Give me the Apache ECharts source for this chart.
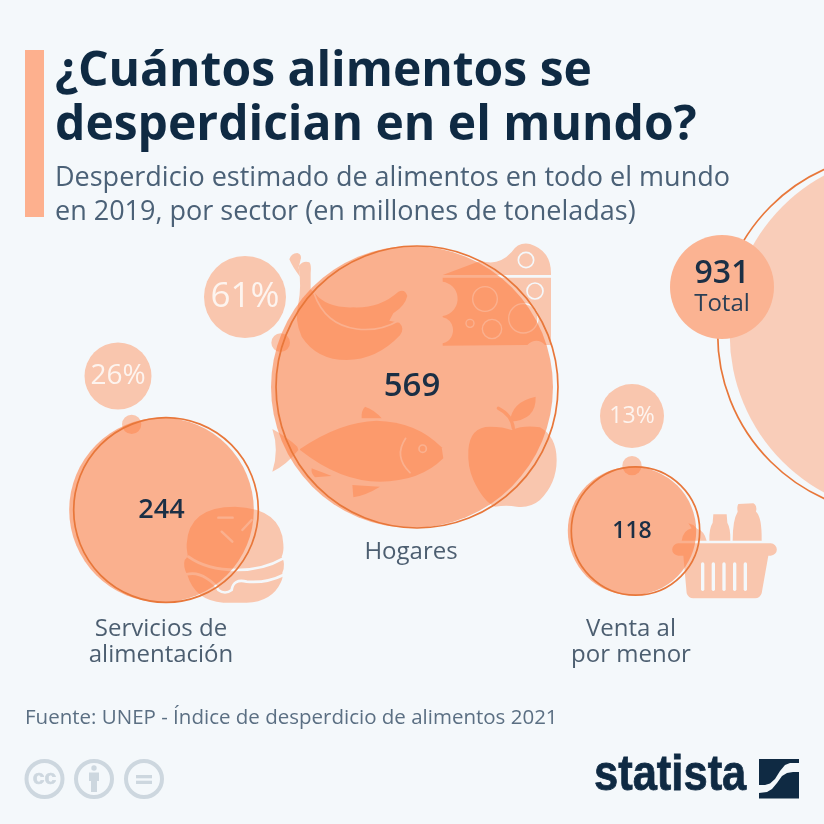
<!DOCTYPE html>
<html><head><meta charset="utf-8">
<style>html,body{margin:0;padding:0;background:#f4f8fb}#c{width:824px;height:824px}</style>
<script src="https://cdn.jsdelivr.net/npm/echarts@6/dist/echarts.min.js"></script>
</head><body><div id="c"></div>
<script>
// ---- data ----
const categories = ['Servicios de\nalimentación', 'Hogares', 'Venta al\npor menor'];
const values = [244, 569, 118];
const shares = [26, 61, 13];
const totalValue = 931;
const totalLabel = 'Total';
const titleText = '¿Cuántos alimentos se\ndesperdician en el mundo?';
const subtitleText = 'Desperdicio estimado de alimentos en todo el mundo\nen 2019, por sector (en millones de toneladas)';
const sourceText = 'Fuente: UNEP - Índice de desperdicio de alimentos 2021';

// ---- layout (page positions of the bubbles, not data) ----
const BG = '#f4f8fb', NAVY = '#0f2a43', ICON = '#f9c6ae', PEACH = '#fdb08e';
const radiusPerRootUnit = 5.91;
const bubbleSize = v => 2 * radiusPerRootUnit * Math.sqrt(v);
const fillCentres = [[161.5, 510], [412, 387], [632, 531]];
const ringCentres = [[166, 510], [417, 387], [635.5, 531]];
const totalFillCentre = [910, 334], totalRingCentre = [898, 334];
const badgeCentre = [722, 287], badgeSize = 104;
const shareCentres = [[118, 376], [245, 297], [632, 416]];
const shareSizes = [67, 82, 64], shareFonts = [28, 35, 23];
const valueFonts = [27, 33, 23];
const labelCentres = [[161, 642], [411, 552], [631, 642]];

function frame(w, h) { return `M0 0L0 0M${w} ${h}L${w} ${h}`; }
function pathEl(d, box, w, h, style) {
  return { type: 'path', shape: { pathData: frame(w, h) + d, x: box[0], y: box[1], width: w / 3, height: h / 3, layout: 'cover' }, style };
}
function fillP(d, box, w, h) { return pathEl(d, box, w, h, { fill: ICON }); }
function lineP(d, box, w, h, lw, col) { return pathEl(d, box, w, h, { fill: 'none', stroke: col || BG, lineWidth: (lw || 5) / 3, lineCap: 'round', lineJoin: 'round' }); }
function ring(cx, cy, r) { return `M${cx - r} ${cy}A${r} ${r} 0 1 1 ${cx + r} ${cy}A${r} ${r} 0 1 1 ${cx - r} ${cy}Z`; }

function iconElements() {
  const a = [190, 230], aw = 1140, ah = 900;
  const b = [50, 340], bw = 750, bh = 840;
  const c = [560, 380], cw = 690, ch = 690;
  const els = [
    // banana
    fillP('M298 88Q303 70 322 69Q338 74 331 92L326 112L330 140Q308 112 298 88Z', a, aw, ah),
    fillP('M326 108Q340 90 358 97Q365 105 362 130L362 178L375 190Q410 235 490 232Q570 235 625 185Q645 175 652 198Q645 228 610 250L598 272L628 278Q645 295 630 316Q560 390 470 390Q380 390 335 320Q312 270 325 220Q335 170 326 108Z', a, aw, ah),
    lineP('M372 190Q405 285 500 297Q570 305 625 272', a, aw, ah, 5),
    fillP(ring(272, 338, 28), a, aw, ah),
    // cheese
    fillP('M758 135L872 92Q925 110 965 66Q985 35 1020 42Q1083 62 1083 130L1083 135Z', a, aw, ah),
    fillP('M758 143L1083 143L1083 345L1065 345Q1040 320 1012 345L758 347L758 340A40 40 0 0 0 758 262L758 258A52 52 0 0 0 758 155Z', a, aw, ah),
    lineP(ring(885, 207, 37), a, aw, ah, 4),
    lineP(ring(906, 297, 29), a, aw, ah, 4),
    lineP(ring(840, 280, 12), a, aw, ah, 4),
    lineP(ring(1000, 265, 44), a, aw, ah, 4),
    lineP(ring(1035, 183, 24), a, aw, ah, 5),
    lineP(ring(1008, 90, 23), a, aw, ah, 5),
    // fish
    fillP('M330 657Q450 575 560 572Q680 575 755 652L760 685Q690 755 570 755Q450 755 330 660Z', a, aw, ah),
    fillP('M247 597Q290 620 322 650L325 660Q290 705 247 725Q268 660 247 597Z', a, aw, ah),
    fillP('M515 565Q513 542 525 530Q555 540 575 565Z', a, aw, ah),
    fillP('M365 715Q390 725 425 738L375 742Q362 730 365 715Z', a, aw, ah),
    fillP('M487 765L570 770Q530 795 490 802Z', a, aw, ah),
    lineP('M647 625Q610 680 660 728', a, aw, ah, 5),
    lineP(ring(698, 656, 11), a, aw, ah, 5),
    // apple
    fillP('M835 660Q840 590 900 590Q940 590 965 600Q1000 585 1050 592Q1100 620 1100 690Q1100 760 1050 810Q1020 835 980 830Q950 825 915 830Q880 815 850 750Q832 710 835 660Z', a, aw, ah),
    fillP('M960 575Q965 515 1037 500Q1040 570 960 575Z', a, aw, ah),
    lineP('M925 535Q965 555 970 595', a, aw, ah, 10, ICON),
    // burger
    fillP('M410 612Q415 500 555 500Q695 505 700 612Q702 635 695 650Q708 672 697 698Q700 712 692 728Q665 785 590 788L520 788Q435 782 412 705Q398 680 404 660Q416 650 412 640Q409 625 410 612Z', b, bw, bh),
    lineP('M415 650Q470 690 560 690Q640 690 700 655', b, bw, bh, 8),
    lineP('M410 703Q440 695 470 715Q495 730 505 750Q525 765 545 750Q550 715 590 725Q650 730 700 705', b, bw, bh, 8),
    lineP('M505 533L548 533', b, bw, bh, 7),
    lineP('M515 575L547 605', b, bw, bh, 7),
    lineP('M577 570L605 540', b, bw, bh, 7),
    fillP(ring(245, 253, 29), b, bw, bh),
    // basket
    fillP('M355 490L632 490A18 18 0 0 1 632 527L625 527L605 640Q600 655 585 655L400 655Q385 655 380 640L370 527L355 527A18 18 0 0 1 355 490Z', c, cw, ch),
    fillP('M460 403L500 403L502 428Q512 445 511 482L448 482Q447 445 458 428Z', c, cw, ch),
    fillP('M535 372L580 370Q592 375 588 395Q606 410 605 482L518 482Q518 420 533 395Q530 380 535 372Z', c, cw, ch),
    fillP('M365 482Q370 450 395 445L385 430L400 435L412 447Q432 452 440 482Z', c, cw, ch),
    fillP(ring(216, 257, 29), c, cw, ch)
  ];
  [428, 460, 492, 524, 556].forEach(x => els.push(lineP(`M${x} 552L${x} 628`, c, cw, ch, 10)));
  return els;
}

const ringData = categories.map((_, i) => [ringCentres[i][0], ringCentres[i][1], values[i]]).concat([[totalRingCentre[0], totalRingCentre[1], totalValue]]);
const fillData = categories.map((_, i) => ({
  value: [fillCentres[i][0], fillCentres[i][1], values[i]],
  label: { fontSize: valueFonts[i] }
}));
const shareData = shares.map((s, i) => ({
  value: [shareCentres[i][0], shareCentres[i][1], s],
  symbolSize: shareSizes[i],
  label: { fontSize: shareFonts[i] }
}));
const nameData = categories.map((n, i) => ({ value: [labelCentres[i][0], labelCentres[i][1]], name: n }));
const sizeFromValue = d => bubbleSize(d[2]);
const FONT = '"Open Sans", sans-serif';
const LIC = '#cdd7df';

const option = {
  backgroundColor: BG,
  animation: false,
  grid: { left: 0, right: 0, top: 0, bottom: 0 },
  xAxis: { type: 'value', min: 0, max: 824, show: false },
  yAxis: { type: 'value', min: 0, max: 824, inverse: true, show: false },
  title: [
    { text: titleText, left: 55, top: 45, padding: 0, textStyle: { fontFamily: FONT, fontWeight: 700, fontSize: 48, lineHeight: 54, color: NAVY } },
    { text: subtitleText, left: 55, top: 161, padding: 0, textStyle: { fontFamily: FONT, fontWeight: 400, fontSize: 27, lineHeight: 34, color: '#4b6177' } },
    { text: sourceText, left: 25, top: 708, padding: 0, textStyle: { fontFamily: FONT, fontWeight: 400, fontSize: 20.5, color: '#5b6f83' } }
  ],
  graphic: [
    { type: 'rect', shape: { x: 25, y: 50, width: 19, height: 167 }, style: { fill: PEACH }, silent: true },
    // licence icons
    { type: 'circle', shape: { cx: 44.5, cy: 779, r: 18 }, style: { fill: 'none', stroke: LIC, lineWidth: 4 }, silent: true },
    { type: 'text', x: 44.5, y: 778.5, style: { text: 'cc', fontFamily: '"Liberation Sans"', fontWeight: 700, fontSize: 21, fill: LIC, stroke: LIC, lineWidth: 0.6, align: 'center', verticalAlign: 'middle' }, silent: true },
    { type: 'circle', shape: { cx: 94, cy: 779, r: 18 }, style: { fill: 'none', stroke: LIC, lineWidth: 4 }, silent: true },
    { type: 'circle', shape: { cx: 94, cy: 768, r: 2.7 }, style: { fill: LIC }, silent: true },
    { type: 'polygon', shape: { points: [[89, 772.5], [99, 772.5], [99, 781], [97, 781], [97, 792], [91, 792], [91, 781], [89, 781]] }, style: { fill: LIC }, silent: true },
    { type: 'circle', shape: { cx: 144, cy: 779, r: 18 }, style: { fill: 'none', stroke: LIC, lineWidth: 4 }, silent: true },
    { type: 'rect', shape: { x: 136, y: 775, width: 16, height: 3.3 }, style: { fill: LIC }, silent: true },
    { type: 'rect', shape: { x: 136, y: 780.7, width: 16, height: 3.3 }, style: { fill: LIC }, silent: true },
    // statista logo
    { type: 'text', x: 594, y: 776.5, scaleX: 0.87, style: { text: 'statista', fontFamily: '"Liberation Sans"', fontWeight: 700, fontSize: 50, fill: NAVY, stroke: NAVY, lineWidth: 0.8, align: 'left', verticalAlign: 'middle' }, silent: true },
    { type: 'rect', shape: { x: 759, y: 759, width: 40, height: 39.5 }, style: { fill: NAVY }, silent: true },
    { type: 'polygon', shape: { points: [[799, 763], [790, 763], [785, 765], [780, 771], [775, 779], [770, 783.5], [765, 785], [759, 785], [759, 793], [767, 792], [772, 789], [777, 783], [782, 776], [787, 773], [793, 772], [799, 772]] }, style: { fill: BG }, silent: true }
  ],
  series: [
    { type: 'custom', coordinateSystem: 'none', z: 1, silent: true, clip: false, data: [0],
      renderItem: () => ({ type: 'group', children: iconElements() }) },
    { name: 'total fill', type: 'scatter', z: 2, silent: true, clip: false, symbolSize: sizeFromValue,
      data: [[totalFillCentre[0], totalFillCentre[1], totalValue]], itemStyle: { color: '#f9cdb9', opacity: 1 } },
    { name: 'sector fill', type: 'scatter', z: 3, silent: true, symbolSize: d => bubbleSize(d[2]),
      data: fillData, itemStyle: { color: 'rgba(255,119,57,0.56)', opacity: 1 },
      label: { show: true, position: 'inside', formatter: p => String(p.value[2]), fontFamily: FONT, fontWeight: 600, color: '#1b2f45' } },
    { name: 'rings', type: 'scatter', z: 4, silent: true, clip: false, symbolSize: sizeFromValue, data: ringData,
      itemStyle: { color: 'rgba(0,0,0,0)', borderColor: '#e8773a', borderWidth: 1.7, opacity: 1 } },
    { name: 'total badge', type: 'scatter', z: 5, silent: true, symbolSize: badgeSize,
      data: [[badgeCentre[0], badgeCentre[1], totalValue]], itemStyle: { color: '#fbb392', opacity: 1 },
      label: { show: true, position: 'inside', formatter: p => `{v|${p.value[2]}}\n{t|${totalLabel}}`,
        rich: { v: { fontFamily: FONT, fontWeight: 600, fontSize: 32, lineHeight: 34, color: '#1b2f45' },
                t: { fontFamily: FONT, fontWeight: 400, fontSize: 24, lineHeight: 26, color: '#2b3f55' } } } },
    { name: 'shares', type: 'scatter', z: 5, silent: true, data: shareData, itemStyle: { color: ICON, opacity: 1 },
      label: { show: true, position: 'inside', formatter: p => p.value[2] + '%', fontFamily: FONT, fontWeight: 400, color: '#fdf4ef' } },
    { name: 'sector names', type: 'scatter', z: 6, silent: true, symbolSize: 1, data: nameData, itemStyle: { color: 'rgba(0,0,0,0)' },
      label: { show: true, position: 'inside', formatter: p => p.name, fontFamily: FONT, fontSize: 24, lineHeight: 26, color: '#22374d', align: 'center' } }
  ]
};
const chart = echarts.init(document.getElementById('c'), null, { renderer: 'canvas', width: 824, height: 824 });
chart.setOption(option);
</script></body></html>
